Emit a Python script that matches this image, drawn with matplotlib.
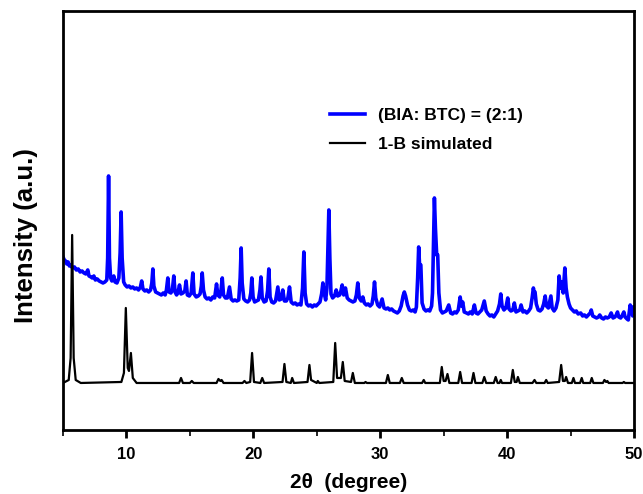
import matplotlib
matplotlib.use('Agg')
import matplotlib.pyplot as plt
from matplotlib.ticker import MultipleLocator, NullLocator

plt.rcParams['font.family'] = ['Liberation Sans', 'DejaVu Sans']
plt.rcParams['font.weight'] = 'bold'

# 1-B simulated pattern (vertices)
sim_x = [5.00, 5.45, 5.60, 5.72, 5.84, 6.00, 6.40, 9.60, 9.80, 9.95, 10.10, 10.20,
         10.35, 10.50, 10.80, 14.15, 14.30, 14.45, 15.00, 15.15, 15.30, 17.10, 17.25,
         17.40, 17.50, 17.65, 19.15, 19.30, 19.45, 19.75, 19.90, 20.05, 20.55, 20.70,
         20.85, 22.30, 22.45, 22.60, 22.95, 23.06, 23.20, 24.27, 24.42, 24.55, 25.00,
         25.08, 25.20, 26.30, 26.45, 26.60, 26.90, 27.05, 27.20, 27.70, 27.84, 28.00,
         28.75, 28.84, 28.95, 30.45, 30.60, 30.75, 31.55, 31.70, 31.85, 33.30, 33.43,
         33.55, 34.70, 34.85, 35.00, 35.15, 35.30, 35.45, 36.15, 36.30, 36.45, 37.20,
         37.35, 37.50, 38.05, 38.20, 38.35, 38.95, 39.10, 39.25, 39.40, 39.50, 39.60,
         40.30, 40.45, 40.60, 40.75, 40.85, 41.00, 42.00, 42.16, 42.30, 42.95, 43.08,
         43.20, 44.10, 44.26, 44.40, 44.55, 44.65, 44.80, 45.10, 45.23, 45.35, 45.75,
         45.88, 46.00, 46.55, 46.67, 46.80, 47.55, 47.67, 47.80, 47.90, 48.00, 49.10,
         49.20, 49.30, 50.00]
sim_y = [45, 48, 70, 193, 70, 48, 45, 46, 55, 120, 60, 57,
         75, 50, 45, 45, 50, 45, 45, 47, 45, 45, 49,
         47, 48, 45, 45, 47, 45, 46, 75, 46, 45, 50,
         45, 46, 64, 46, 45, 50, 45, 46, 63, 48, 45,
         47, 45, 46, 85, 50, 50, 66, 47, 46, 55, 45,
         45, 46, 45, 45, 53, 45, 45, 50, 45, 45, 48,
         45, 45, 61, 47, 47, 54, 45, 45, 56, 45, 45,
         55, 45, 45, 51, 45, 45, 51, 45, 45, 48, 45,
         45, 58, 46, 46, 51, 45, 45, 48, 45, 45, 48,
         45, 46, 63, 47, 47, 51, 45, 45, 50, 45, 45,
         50, 45, 45, 50, 45, 45, 48, 46, 47, 45, 45,
         46, 45, 45]

exp_x = [5.00, 5.10, 5.20, 5.30, 5.40, 5.50, 5.60, 5.75, 5.90, 6.05, 6.20, 6.35, 6.50,
         6.65, 6.80, 6.95, 7.05, 7.20, 7.30, 7.43, 7.55, 7.70, 7.85, 8.00, 8.15, 8.30,
         8.45, 8.52, 8.59, 8.66, 8.75, 8.85, 9.00, 9.10, 9.25, 9.40, 9.50, 9.58, 9.66,
         9.78, 9.90, 10.05, 10.20, 10.35, 10.50, 10.65, 10.80, 10.95, 11.10, 11.20,
         11.30, 11.45, 11.60, 11.75, 11.90, 12.00, 12.08, 12.16, 12.30, 12.45, 12.60,
         12.75, 12.90, 13.05, 13.15, 13.26, 13.36, 13.50, 13.62, 13.73, 13.83, 13.95,
         14.05, 14.18, 14.30, 14.45, 14.60, 14.70, 14.80, 14.95, 15.10, 15.23, 15.33,
         15.50, 15.65, 15.80, 15.90, 15.97, 16.07, 16.20, 16.35, 16.50, 16.65, 16.80,
         16.95, 17.10, 17.20, 17.35, 17.45, 17.55, 17.65, 17.80, 17.95, 18.12, 18.25,
         18.40, 18.55, 18.70, 18.85, 18.96, 19.04, 19.12, 19.25, 19.40, 19.55, 19.70,
         19.80, 19.88, 19.98, 20.10, 20.25, 20.40, 20.52, 20.60, 20.70, 20.85, 21.00,
         21.12, 21.22, 21.32, 21.45, 21.60, 21.75, 21.93, 22.05, 22.20, 22.32, 22.45,
         22.60, 22.72, 22.85, 22.98, 23.15, 23.30, 23.45, 23.60, 23.75, 23.88, 23.98,
         24.08, 24.20, 24.35, 24.50, 24.65, 24.80, 24.95, 25.10, 25.25, 25.38, 25.48,
         25.58, 25.70, 25.80, 25.88, 25.95, 26.03, 26.12, 26.25, 26.40, 26.53, 26.65,
         26.80, 26.90, 27.00, 27.12, 27.26, 27.40, 27.55, 27.70, 27.85, 28.00, 28.12,
         28.23, 28.35, 28.50, 28.63, 28.75, 28.90, 29.05, 29.20, 29.35, 29.45, 29.55,
         29.65, 29.80, 29.95, 30.15, 30.30, 30.45, 30.60, 30.75, 30.90, 31.05, 31.20,
         31.35, 31.50, 31.65, 31.80, 31.90, 32.00, 32.15, 32.30, 32.45, 32.60, 32.75,
         32.85, 32.95, 33.03, 33.10, 33.20, 33.30, 33.45, 33.60, 33.75, 33.90, 34.05,
         34.12, 34.20, 34.27, 34.35, 34.45, 34.53, 34.62, 34.75, 34.90, 35.05, 35.20,
         35.40, 35.55, 35.70, 35.85, 36.00, 36.15, 36.30, 36.40, 36.50, 36.62, 36.80,
         36.95, 37.10, 37.25, 37.42, 37.55, 37.70, 37.85, 38.00, 38.20, 38.35, 38.50,
         38.65, 38.80, 38.95, 39.10, 39.25, 39.40, 39.50, 39.60, 39.75, 39.90, 40.05,
         40.15, 40.30, 40.45, 40.57, 40.70, 40.85, 41.00, 41.10, 41.25, 41.40, 41.55,
         41.70, 41.85, 41.97, 42.07, 42.14, 42.20, 42.30, 42.45, 42.60, 42.75, 42.88,
         43.00, 43.10, 43.25, 43.35, 43.45, 43.55, 43.70, 43.85, 44.00, 44.10, 44.20,
         44.30, 44.42, 44.55, 44.65, 44.75, 44.88, 45.00, 45.15, 45.30, 45.45, 45.60,
         45.80, 45.95, 46.10, 46.25, 46.40, 46.55, 46.63, 46.75, 46.90, 47.05, 47.20,
         47.30, 47.45, 47.60, 47.75, 47.90, 48.05, 48.20, 48.35, 48.50, 48.60, 48.70,
         48.80, 48.95, 49.05, 49.20, 49.30, 49.45, 49.55, 49.70, 49.80, 49.90, 50.00]
exp_y = [171, 168, 167, 164, 166, 162, 163, 160, 161, 158, 159, 156, 157,
         155, 154, 158, 152, 151, 150, 152, 148, 149, 147, 146, 145, 146,
         148, 170, 252, 170, 150, 147, 152, 146, 145, 150, 175, 216, 170,
         146, 143, 141, 142, 140, 141, 139, 140, 138, 141, 147,
         139, 137, 138, 136, 138, 145, 159, 142, 136, 135, 134,
         133, 135, 133, 138, 150, 136, 135, 138, 152, 136, 133,
         135, 143, 134, 135, 137, 147, 133, 132, 135, 155, 134,
         131, 132, 134, 142, 155, 138, 131, 129, 130, 128, 131,
         130, 144, 133, 131, 138, 150, 133, 130, 130, 141, 129,
         127, 128, 127, 128, 150, 180, 145, 129, 127, 126, 128,
         135, 150, 131, 126, 127, 128, 138, 151, 130, 126, 127,
         137, 159, 131, 126, 125, 127, 141, 128, 129, 138, 127,
         127, 130, 141, 126, 124, 125, 123, 124, 123, 140, 176,
         135, 124, 122, 123, 121, 123, 122, 124, 126, 134, 145,
         135, 128, 140, 180, 218, 170, 134, 130, 132, 138, 132,
         133, 137, 143, 133, 140, 130, 128, 127, 126, 127, 133,
         145, 130, 127, 131, 125, 123, 124, 122, 124, 132, 146,
         130, 123, 121, 129, 120, 119, 120, 118, 119, 117, 116,
         115, 117, 122, 132, 136, 132, 123, 118, 117, 118, 116,
         121, 150, 181, 163, 163, 125, 119, 117, 118, 117, 122,
         135, 185, 230, 200, 173, 173, 135, 118, 115, 116, 117,
         123, 115, 114, 116, 115, 118, 131, 122, 126, 116, 115,
         114, 116, 114, 123, 115, 114, 116, 118, 127, 117, 114,
         112, 113, 111, 114, 117, 124, 134, 122, 118, 120, 130,
         119, 117, 118, 125, 116, 117, 118, 123, 116, 117, 115,
         117, 120, 130, 140, 135, 136, 124, 118, 117, 119, 124,
         132, 122, 120, 126, 132, 120, 117, 120, 128, 152, 140,
         146, 135, 160, 140, 131, 124, 120, 118, 116, 117, 114,
         115, 112, 113, 111, 113, 115, 118, 112, 111, 110, 111,
         113, 110, 109, 111, 110, 111, 115, 110, 111, 113, 116,
         111, 110, 112, 116, 111, 109, 108, 123, 118, 112, 121]

fig = plt.figure(figsize=(6.43, 4.94), dpi=100)
ax = fig.add_axes([0.098, 0.1296, 0.888, 0.8482])

ax.plot(exp_x, exp_y, color='#0000ff', lw=2.6, label='(BIA: BTC) = (2:1)')
ax.plot(sim_x, sim_y, color='black', lw=1.6, label='1-B simulated')

ax.set_xlim(5, 50)
ax.set_ylim(-2, 417)
ax.xaxis.set_major_locator(MultipleLocator(10))
ax.xaxis.set_minor_locator(MultipleLocator(5))
ax.yaxis.set_major_locator(NullLocator())
ax.tick_params(axis='x', which='major', direction='out', length=6, width=2,
               labelsize=12, pad=6, top=False)
ax.tick_params(axis='x', which='minor', direction='out', length=4, width=1.2, top=False)
for lbl in ax.get_xticklabels():
    lbl.set_fontweight('bold')
for s in ax.spines.values():
    s.set_linewidth(2)

ax.set_xlabel('2θ  (degree)', fontsize=15, fontweight='bold', labelpad=8)
ax.set_ylabel('Intensity (a.u.)', fontsize=18.5, fontweight='bold', labelpad=18)
ax.yaxis.label.set_y(0.463)

ax.legend(loc='upper left', bbox_to_anchor=(0.44, 0.805), frameon=False,
          handlelength=2.0, labelspacing=0.75, handletextpad=0.8,
          prop={'weight': 'bold', 'size': 12.5})

fig.savefig('out.png', dpi=100, facecolor='white')
